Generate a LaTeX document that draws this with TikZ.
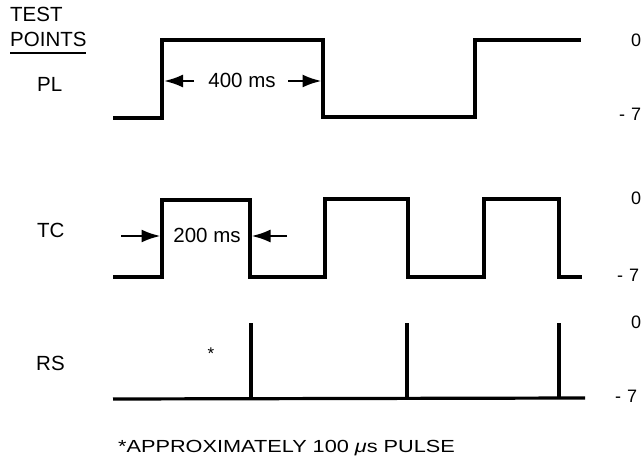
\documentclass[tikz,border=0pt]{standalone}
\usepackage{fontspec}
\setmainfont{Liberation Sans}
\usetikzlibrary{arrows.meta}
\tikzset{
  wave/.style={line width=3.2bp, line join=miter, line cap=butt},
  dimarrow/.style={line width=2.4bp, -{Latex[length=19bp,width=13bp]}},
  lbl/.style={inner sep=0pt, anchor=base west, font=\fontsize{20.5bp}{24bp}\selectfont},
  lvl/.style={inner sep=0pt, anchor=base west, font=\fontsize{18bp}{22bp}\selectfont},
}
\begin{document}
\begin{tikzpicture}[x=1bp,y=-1bp]
\useasboundingbox (0,0) rectangle (642,456);
% left labels
\node[lbl] (test) at (10,22) {TEST};
\node[lbl] (points) at (10,47) {POINTS};
\draw[line width=2.2bp] (10,53) -- (86,53);
\node[lbl] (pl) at (37,92) {PL};
\node[lbl] (tc) at (37,238) {TC};
\node[lbl] (rs) at (36,370) {RS};
% right level labels
\node[lvl] (pl0) at (631,47) {0};
\node[lvl] (pl7) at (619,121) {-\,\,7};
\node[lvl] (tc0) at (631,205) {0};
\node[lvl] (tc7) at (617,282) {-\,\,7};
\node[lvl] (rs0) at (631,328) {0};
\node[lvl] (rs7) at (615,402) {-\,\,7};
% PL waveform
\draw[wave] (113,118) -- (162,118) -- (162,40) -- (323,40) -- (323,117) -- (475,117) -- (475,40) -- (581,40);
% TC waveform
\draw[wave] (113,277) -- (162,277) -- (162,200) -- (250,200) -- (250,277) -- (325,277) -- (325,199) -- (408,199) -- (408,277) -- (484,277) -- (484,199) -- (559,199) -- (559,277) -- (582,277);
% RS waveform
\draw[wave] (113,399) -- (585,398);
\draw[wave] (251,399) -- (251,323);
\draw[wave] (407,398) -- (407,323);
\draw[wave] (559,398) -- (559,323);
% 400 ms
\node[lbl, anchor=base] (t400) at (242,88) {400 ms};
\coordinate (a1) at (194,81);
\coordinate (a1t) at (164,81);
\coordinate (a2) at (288,81);
\coordinate (a2t) at (321.5,81);
\draw[dimarrow] (a1) -- (a1t);
\draw[dimarrow] (a2) -- (a2t);
% 200 ms
\node[lbl, anchor=base] (t200) at (207,243) {200 ms};
\coordinate (b1) at (121,236);
\coordinate (b1t) at (160.5,236);
\coordinate (b2) at (287,236);
\coordinate (b2t) at (251.5,236);
\draw[dimarrow] (b1) -- (b1t);
\draw[dimarrow] (b2) -- (b2t);
% asterisk
\node[inner sep=0pt, font=\fontsize{17bp}{18bp}\selectfont] (ast) at (211,354) {*};
% footnote
\node[inner sep=0pt, anchor=base west, font=\fontsize{17.5bp}{20bp}\selectfont] (note) at (118,452)
  {\scalebox{1.24}[1]{*APPROXIMATELY 100 \textit{μ}s PULSE}};
\end{tikzpicture}
\end{document}
